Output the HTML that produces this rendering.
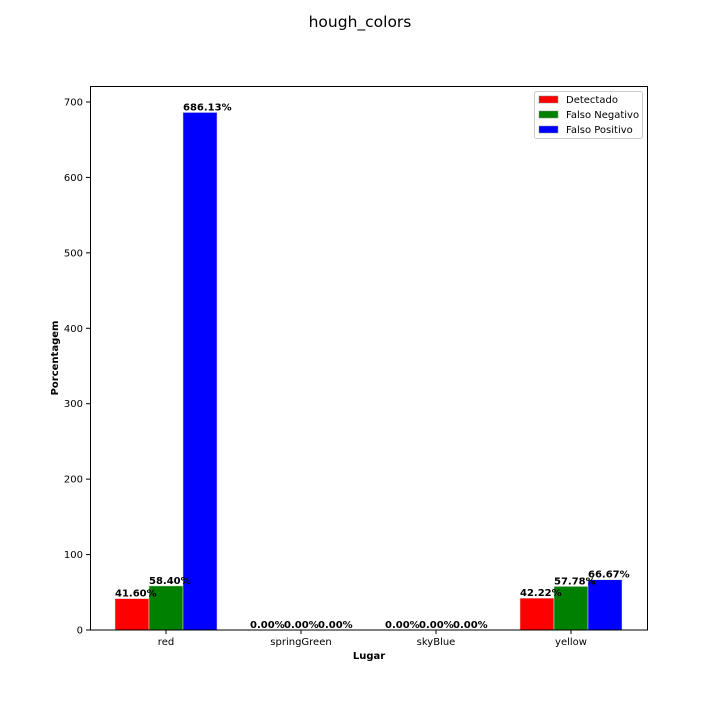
<!DOCTYPE html>
<html><head><meta charset="utf-8"><style>
body{margin:0;background:#fff;}
svg text{font-family:"DejaVu Sans","Liberation Sans",sans-serif;}
</style></head><body>
<svg id="chart" width="720" height="720" xmlns="http://www.w3.org/2000/svg">
<rect width="720" height="720" fill="#fff"/>
<text x="360" y="27" font-size="15.5" text-anchor="middle">hough_colors</text>
<g id="yticks"></g><g id="xticks"></g><g id="bars"></g><g id="labels"></g>
<rect x="90.5" y="86.5" width="557" height="543.5" fill="none" stroke="#000" stroke-width="1"/>
<text transform="translate(58,358) rotate(-90)" font-size="10" font-weight="bold" text-anchor="middle">Porcentagem</text>
<text x="369" y="659" font-size="10" font-weight="bold" text-anchor="middle">Lugar</text>
<g>
<rect x="534.5" y="91.5" width="108" height="47" fill="#fff" stroke="#ccc" rx="2"/>
<rect x="539" y="96" width="19" height="7" fill="red" stroke="#888" stroke-width="0.5"/>
<text x="566" y="103" font-size="10">Detectado</text>
<rect x="539" y="111" width="19" height="7" fill="green" stroke="#888" stroke-width="0.5"/>
<text x="566" y="118" font-size="10">Falso Negativo</text>
<rect x="539" y="126" width="19" height="7" fill="blue" stroke="#888" stroke-width="0.5"/>
<text x="566" y="133" font-size="10">Falso Positivo</text>
</g>
</svg>
<script>
const categories=["red","springGreen","skyBlue","yellow"];
const detectado=[41.60,0,0,42.22];
const falsoNegativo=[58.40,0,0,57.78];
const falsoPositivo=[686.13,0,0,66.67];
const yTicks=[0,100,200,300,400,500,600,700];
const NS="http://www.w3.org/2000/svg";
const y0=630,yScale=(630-102)/700;
function yPos(v){return y0-v*yScale;}
function xCenter(i){return 166+i*135;}
const bw=34;
function mk(tag,attrs,parent){const e=document.createElementNS(NS,tag);for(const k in attrs)e.setAttribute(k,attrs[k]);parent.appendChild(e);return e;}
const yt=document.getElementById('yticks'),xt=document.getElementById('xticks'),bars=document.getElementById('bars'),lab=document.getElementById('labels');
yTicks.forEach(v=>{const y=yPos(v);
 const l=mk('line',{x1:86,x2:90,y1:y,y2:y,stroke:'#000'},yt);
 
 
 const t=mk('text',{x:83,y:y+3.5,'font-size':10,'text-anchor':'end'},yt);t.textContent=v;
 
 
});
categories.forEach((c,i)=>{const x=xCenter(i);
 const l=mk('line',{x1:x,x2:x,y1:630,y2:634,stroke:'#000'},xt);
 
 
 const t=mk('text',{x:x,y:645,'font-size':10,'text-anchor':'middle'},xt);t.textContent=c;
 
 
});
const series=[[detectado,'red',-1.5,'detectado'],[falsoNegativo,'green',-0.5,'falso-negativo'],[falsoPositivo,'blue',0.5,'falso-positivo']];
series.forEach(([vals,col,off,name])=>{vals.forEach((v,i)=>{
 const x=xCenter(i)+off*bw,y=yPos(v);
 const r=mk('rect',{x:x,y:y,width:bw,height:y0-y,fill:col,stroke:'#ddd','stroke-width':0.5},bars);
 
 
 const t=mk('text',{x:x,y:y-2,'font-size':10,'font-weight':'bold'},lab);t.textContent=v.toFixed(2)+'%';
 
 
});});
</script>
</body></html>
